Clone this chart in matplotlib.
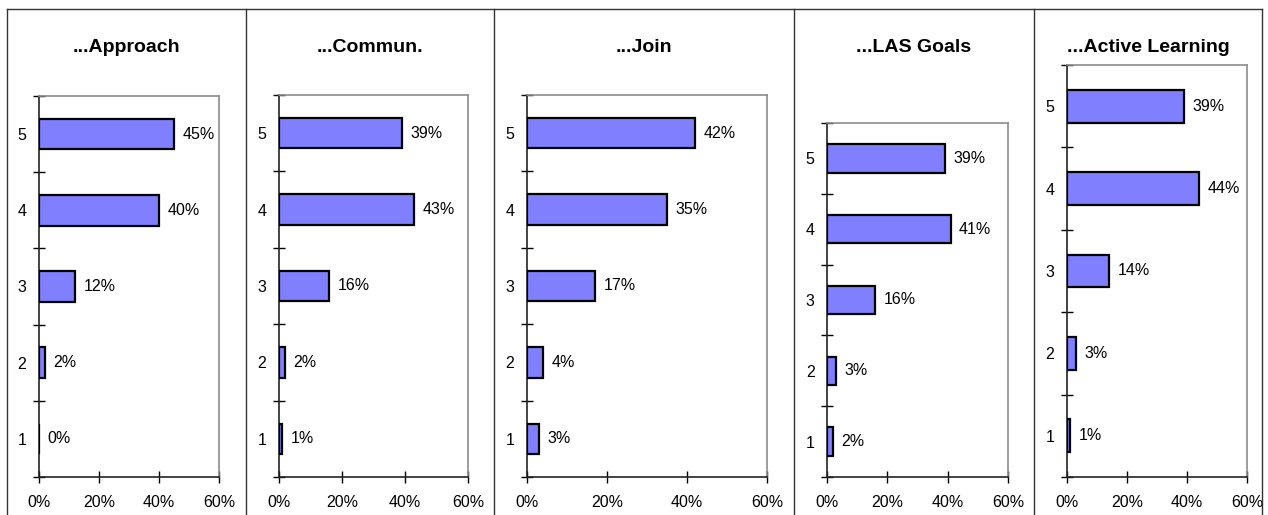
import matplotlib
matplotlib.use("Agg")
import matplotlib.pyplot as plt
from matplotlib.lines import Line2D
from matplotlib.ticker import FixedLocator

plt.rcParams['font.family'] = ['Liberation Sans', 'DejaVu Sans']

# Survey results: share of answers per rating (1-5), in percent
titles = ["...Approach", "...Commun.", "...Join", "...LAS Goals", "...Active Learning"]
ratings = [1, 2, 3, 4, 5]
approach = [0, 2, 12, 40, 45]
commun = [1, 2, 16, 43, 39]
join = [3, 4, 17, 35, 42]
las_goals = [2, 3, 16, 41, 39]
active_learning = [1, 3, 14, 44, 39]
series = [approach, commun, join, las_goals, active_learning]
x_ticks = [0, 20, 40, 60]

W, H = 1268, 515
fig = plt.figure(figsize=(W / 100, H / 100), dpi=100)

# plot areas in pixels: left, right, top, bottom
boxes = [
    (39, 219, 96, 477),
    (279, 468, 95, 477),
    (527, 767, 95, 477),
    (827, 1008, 123, 477),
    (1067, 1247, 65, 477),
]
# panel separators (pixels)
seps = [7, 246, 494, 794, 1034, 1262]

def px_rect(l, r, t, b):
    return [l / W, 1 - b / H, (r - l) / W, (b - t) / H]

for i, (title, vals) in enumerate(zip(titles, series)):
    l, r, t, b = boxes[i]
    ax = fig.add_axes(px_rect(l, r, t, b))
    ax.barh(ratings, vals, height=0.4, color='#8080FF', edgecolor='black',
            linewidth=1.6, zorder=3)
    for y, v in zip(ratings, vals):
        ax.annotate(f"{v}%", (v, y), xytext=(6, 0), textcoords='offset points',
                    va='center', ha='left', fontsize=11.5)
    ax.set_xlim(0, 60)
    ax.set_ylim(0.5, 5.5)
    ax.set_xticks(x_ticks)
    ax.set_xticklabels([f"{x}%" for x in x_ticks], fontsize=11.5)
    ax.set_yticks(ratings)
    ax.set_yticklabels([str(c) for c in ratings], fontsize=11.5)
    ax.yaxis.set_minor_locator(FixedLocator([0.5, 1.5, 2.5, 3.5, 4.5, 5.5]))
    ax.tick_params(axis='y', which='major', length=0, pad=9)
    ax.tick_params(axis='y', which='minor', direction='inout', length=8, width=1)
    ax.tick_params(axis='x', which='major', direction='inout', length=8, width=1, pad=9)
    for side in ('left', 'bottom'):
        ax.spines[side].set_color('#222222')
        ax.spines[side].set_linewidth(1.2)
    for side in ('top', 'right'):
        ax.spines[side].set_color('#8c8c8c')
        ax.spines[side].set_linewidth(1.2)

    cx = (seps[i] + seps[i + 1]) / 2
    fig.text(cx / W, 1 - 48 / H, title, ha='center', va='center',
             fontsize=14, fontweight='bold')

# frame around the panels
for x in seps:
    fig.add_artist(Line2D([x / W, x / W], [0, 1 - 9 / H], color='#333333', lw=1))
fig.add_artist(Line2D([seps[0] / W, seps[-1] / W], [1 - 9 / H, 1 - 9 / H],
                      color='#333333', lw=1))

fig.savefig("out.png", dpi=100)
